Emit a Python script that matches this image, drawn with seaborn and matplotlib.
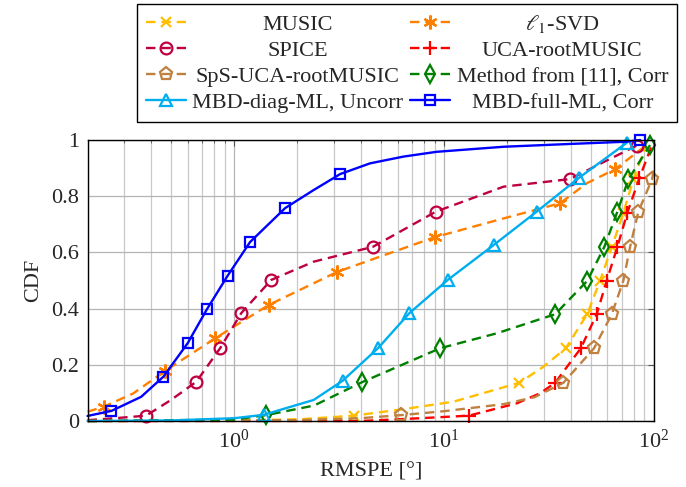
import matplotlib
matplotlib.use('Agg')
import matplotlib.pyplot as plt
import seaborn as sns
from matplotlib.ticker import LogLocator, NullFormatter

# RMSPE [deg] / CDF points, *_mk = points that carry a marker
music_x = [0.2, 1.0, 2.14, 3.7, 6.4, 11.1, 22.8, 29.7, 38.0, 48.1, 55.3, 63, 71.4, 79.7, 91.6]
music_y = [0, 0.001, 0.007, 0.019, 0.042, 0.069, 0.136, 0.193, 0.259, 0.381, 0.499, 0.62, 0.74, 0.86, 0.98]
music_mk = [3, 6, 8, 9, 10, 11, 12, 13]

l1_x = [0.2, 0.239, 0.33, 0.47, 0.81, 1.46, 3.1, 9.0, 19.2, 35.7, 47.8, 65.2, 95]
l1_y = [0.033, 0.051, 0.098, 0.179, 0.294, 0.413, 0.531, 0.654, 0.721, 0.775, 0.846, 0.896, 0.99]
l1_mk = [1, 3, 4, 5, 6, 7, 9, 11]

spice_x = [0.2, 0.27, 0.38, 0.5, 0.66, 0.86, 1.08, 1.5, 2.39, 4.58, 9.13, 19.2, 39.8, 57, 82.7]
spice_y = [0.003, 0.01, 0.019, 0.075, 0.14, 0.261, 0.384, 0.502, 0.567, 0.62, 0.745, 0.834, 0.861, 0.92, 0.98]
spice_mk = [2, 4, 5, 6, 7, 9, 10, 12, 14]

uca_x = [0.2, 4.0, 7.7, 13.1, 22.2, 28.7, 33.8, 44.8, 53.3, 59.5, 66.9, 74.6, 85.1, 97.5]
uca_y = [0, 0, 0.01, 0.019, 0.063, 0.099, 0.136, 0.259, 0.38, 0.499, 0.62, 0.741, 0.864, 0.98]
uca_mk = [3, 6, 7, 8, 9, 10, 11, 12]

sps_x = [0.2, 2.0, 4.0, 6.24, 10, 19.2, 27, 37.0, 51.8, 62.9, 71.4, 76.9, 84.2, 97.8, 100]
sps_y = [0, 0.003, 0.01, 0.021, 0.035, 0.06, 0.085, 0.136, 0.259, 0.38, 0.499, 0.62, 0.745, 0.86, 0.9]
sps_mk = [3, 7, 8, 9, 10, 11, 12, 13]

meth_x = [0.2, 1.0, 1.42, 2.4, 4.06, 9.57, 17.8, 33.8, 48.1, 58.0, 66.9, 75.5, 95.7]
meth_y = [0, 0.005, 0.021, 0.055, 0.138, 0.259, 0.312, 0.38, 0.499, 0.62, 0.745, 0.86, 0.982]
meth_mk = [2, 4, 5, 7, 8, 9, 10, 11, 12]

diag_x = [0.2, 0.5, 1.0, 1.38, 2.39, 3.28, 4.84, 6.81, 10.4, 17.2, 27.6, 44.0, 74.1]
diag_y = [0, 0.002, 0.01, 0.022, 0.075, 0.143, 0.259, 0.383, 0.502, 0.626, 0.745, 0.866, 0.99]
diag_mk = [3, 5, 6, 7, 8, 9, 10, 11, 12]

full_x = [0.2, 0.26, 0.36, 0.46, 0.60, 0.74, 0.93, 1.19, 1.75, 2.39, 3.2, 4.44, 6.4, 9.2, 19.2, 39.8, 74, 86]
full_y = [0.018, 0.036, 0.086, 0.158, 0.277, 0.397, 0.517, 0.637, 0.758, 0.822, 0.879, 0.917, 0.941,
          0.958, 0.976, 0.986, 0.994, 1.0]
full_mk = [1, 3, 4, 5, 6, 7, 8, 10, 17]

sns.set_style('whitegrid')
plt.rcParams['font.family'] = ['Liberation Serif', 'DejaVu Serif']
plt.rcParams['mathtext.fontset'] = 'stix'
plt.rcParams['font.size'] = 16

fig = plt.figure(figsize=(6.86, 4.87), dpi=100)
ax = fig.add_axes([0.1276, 0.1355, 0.8258, 0.577])

dash = (0, (4, 2.5))
series = [
    ('MUSIC', music_x, music_y, music_mk, '#FFBF00', 'x', 7.5, dash),
    (r'$\ell_1$-SVD', l1_x, l1_y, l1_mk, '#FF8000', (6, 2, 0), 10, dash),
    ('SPICE', spice_x, spice_y, spice_mk, '#BF0040', 'o', 8.5, dash),
    ('UCA-rootMUSIC', uca_x, uca_y, uca_mk, '#FF0000', '+', 10, dash),
    ('SpS-UCA-rootMUSIC', sps_x, sps_y, sps_mk, '#BF8040', 'p', 9.5, dash),
    ('Method from [11], Corr', meth_x, meth_y, meth_mk, '#008000', 'd', 9, dash),
    ('MBD-diag-ML, Uncorr', diag_x, diag_y, diag_mk, '#00AEEF', '^', 9, '-'),
    ('MBD-full-ML, Corr', full_x, full_y, full_mk, '#0000FF', 's', 6.5, '-'),
]

for name, xs, ys, mk, col, m, ms, ls in series:
    sns.lineplot(x=xs, y=ys, ax=ax, color=col, linestyle=ls, linewidth=1.7,
                 marker=m, markevery=mk, markersize=ms, markerfacecolor='none',
                 markeredgecolor=col, markeredgewidth=1.6, label=name, clip_on=False)

ax.set_xscale('log')
ax.set_xlim(0.2, 100)
ax.set_ylim(0, 1)
ax.xaxis.set_major_locator(LogLocator(base=10))
ax.xaxis.set_minor_locator(LogLocator(base=10, subs=range(2, 10)))
ax.xaxis.set_minor_formatter(NullFormatter())
ax.set_yticks([0, 0.2, 0.4, 0.6, 0.8, 1.0])
ax.set_yticklabels(['0', '0.2', '0.4', '0.6', '0.8', '1'])

ax.grid(which='major', color='#b4b4b4', linewidth=0.9)
ax.grid(which='minor', axis='x', color='#c8c8c8', linewidth=0.9)
for s in ax.spines.values():
    s.set_color('black')
    s.set_linewidth(1.0)
ax.tick_params(which='both', direction='in', top=True, right=True, color='#555555')
ax.tick_params(which='major', length=4, labelsize=16, pad=6)
ax.tick_params(which='minor', length=2.5)

ax.set_xlabel('RMSPE [°]', fontsize=16, labelpad=7)
ax.set_ylabel('CDF', fontsize=16, labelpad=6)

h, l = ax.get_legend_handles_labels()
order = [0, 2, 4, 6, 1, 3, 5, 7]
leg = ax.legend([h[i] for i in order], [l[i] for i in order], ncol=2,
                loc='upper right', bbox_to_anchor=(677 / 686, 1 - 4 / 487),
                bbox_transform=fig.transFigure, fancybox=False, edgecolor='black',
                framealpha=1, borderaxespad=0, handlelength=1.8, handletextpad=0.3,
                columnspacing=0.3, labelspacing=0.25, borderpad=0.4, fontsize=16)
leg.get_frame().set_linewidth(1.0)

# pgfplots centres the legend text inside each column
fig.canvas.draw()
texts = leg.get_texts()
for col in (texts[:4], texts[4:]):
    ws = [t.get_window_extent().width for t in col]
    for t, w in zip(col, ws):
        t.set_x((max(ws) - w) / 2)

fig.savefig('out.png', dpi=100)
